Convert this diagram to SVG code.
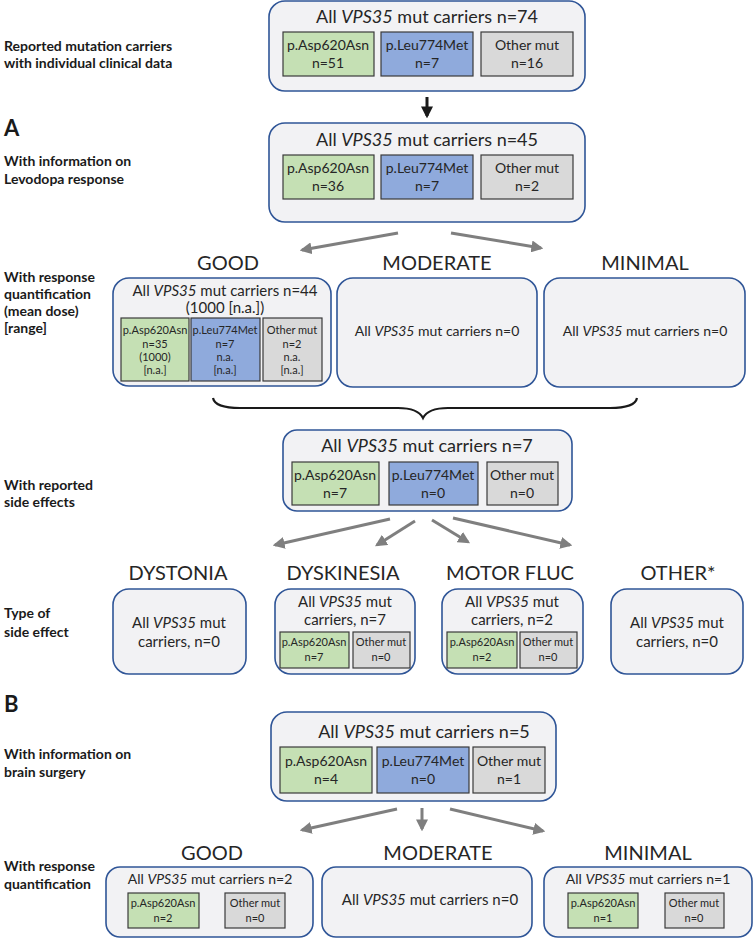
<svg xmlns="http://www.w3.org/2000/svg" width="753" height="939" viewBox="0 0 753 939">
<style>
text{font-family:Lato,"Liberation Sans",sans-serif;fill:#262626;text-anchor:middle}
.lab{font-weight:bold;font-size:14px;text-anchor:start;fill:#1a1a1a}
.big{font-weight:bold;font-size:22px;text-anchor:start;fill:#1a1a1a}
.outer{fill:#f2f2f4;stroke:#2f5597;stroke-width:1.6}
.g{fill:#c5e0b4;stroke:#3a3a3a;stroke-width:1.2}
.b{fill:#8faadc;stroke:#3a3a3a;stroke-width:1.2}
.o{fill:#d9d9d9;stroke:#3a3a3a;stroke-width:1.2}
.t18{font-size:18px}.t15{font-size:15px}.t14{font-size:14px}.t11{font-size:11px}.h{font-size:20px}
.arr{stroke:#7f7f7f;stroke-width:3;fill:none;marker-end:url(#ag)}
i{font-style:italic}
.it{font-style:italic}
</style>
<defs>
<marker id="ag" viewBox="0 0 10 10" refX="8" refY="5" markerWidth="4" markerHeight="4" orient="auto" markerUnits="strokeWidth"><path d="M0,0 L10,5 L0,10 z" fill="#7f7f7f"/></marker>
<marker id="ak" viewBox="0 0 10 10" refX="8" refY="5" markerWidth="4" markerHeight="4" orient="auto" markerUnits="strokeWidth"><path d="M0,0 L10,5 L0,10 z" fill="#1a1a1a"/></marker>
</defs>

<g id="labels">
<text class="lab" x="4" y="51">Reported mutation carriers</text>
<text class="lab" x="4" y="68">with individual clinical data</text>
<text class="big" x="4" y="136">A</text>
<text class="lab" x="4" y="166">With information on</text>
<text class="lab" x="4" y="184">Levodopa response</text>
<text class="lab" x="4" y="282">With response</text>
<text class="lab" x="4" y="299">quantification</text>
<text class="lab" x="4" y="316">(mean dose)</text>
<text class="lab" x="4" y="333">[range]</text>
<text class="lab" x="4" y="490">With reported</text>
<text class="lab" x="4" y="507">side effects</text>
<text class="lab" x="4" y="618">Type of</text>
<text class="lab" x="4" y="637">side effect</text>
<text class="big" x="4" y="712">B</text>
<text class="lab" x="4" y="759">With information on</text>
<text class="lab" x="4" y="777">brain surgery</text>
<text class="lab" x="4" y="871">With response</text>
<text class="lab" x="4" y="889">quantification</text>
</g>

<g id="headings">
<text class="h" x="228" y="270">GOOD</text>
<text class="h" x="437" y="270">MODERATE</text>
<text class="h" x="645" y="270">MINIMAL</text>
<text class="h" x="178" y="580">DYSTONIA</text>
<text class="h" x="343" y="580">DYSKINESIA</text>
<text class="h" x="510" y="580">MOTOR FLUC</text>
<text class="h" x="678" y="580">OTHER*</text>
<text class="h" x="212" y="860">GOOD</text>
<text class="h" x="438" y="860">MODERATE</text>
<text class="h" x="648" y="860">MINIMAL</text>
</g>

<g id="connectors">
<line x1="427" y1="97" x2="427" y2="116" stroke="#1a1a1a" stroke-width="3" marker-end="url(#ak)"/>
<line class="arr" x1="398" y1="233" x2="302" y2="250"/>
<line class="arr" x1="451" y1="233" x2="541" y2="248"/>
<path d="M213,398 Q215,408 240,408 L398,408 Q418,408 423,418 Q428,408 448,408 L610,408 Q635,408 637,398" fill="none" stroke="#1a1a1a" stroke-width="2.2"/>
<line class="arr" x1="390" y1="519" x2="275" y2="545"/>
<line class="arr" x1="415" y1="521" x2="377" y2="545"/>
<line class="arr" x1="432" y1="520" x2="468" y2="542"/>
<line class="arr" x1="453" y1="518" x2="570" y2="545"/>
<line class="arr" x1="397" y1="809" x2="302" y2="830"/>
<line class="arr" x1="422" y1="808" x2="422" y2="829"/>
<line class="arr" x1="450" y1="809" x2="543" y2="831"/>
</g>

<g id="n74">
<rect class="outer" x="269" y="1" width="316" height="90" rx="16"/>
<text class="t18" x="427" y="23">All <tspan class="it">VPS35</tspan> mut carriers n=74</text>
<rect class="g" x="283" y="32" width="91" height="44"/>
<rect class="b" x="381" y="32" width="92" height="44"/>
<rect class="o" x="481" y="32" width="92" height="44"/>
<text class="t14" x="328" y="50">p.Asp620Asn</text><text class="t14" x="328" y="68">n=51</text>
<text class="t14" x="427" y="50">p.Leu774Met</text><text class="t14" x="427" y="68">n=7</text>
<text class="t14" x="527" y="50">Other mut</text><text class="t14" x="527" y="68">n=16</text>
</g>

<g id="n45">
<rect class="outer" x="269" y="123" width="316" height="99" rx="16"/>
<text class="t18" x="427" y="146">All <tspan class="it">VPS35</tspan> mut carriers n=45</text>
<rect class="g" x="283" y="155" width="91" height="44"/>
<rect class="b" x="381" y="155" width="92" height="44"/>
<rect class="o" x="481" y="155" width="92" height="44"/>
<text class="t14" x="328" y="173">p.Asp620Asn</text><text class="t14" x="328" y="191">n=36</text>
<text class="t14" x="427" y="173">p.Leu774Met</text><text class="t14" x="427" y="191">n=7</text>
<text class="t14" x="527" y="173">Other mut</text><text class="t14" x="527" y="191">n=2</text>
</g>

<g id="levo-good">
<rect class="outer" x="113" y="278" width="218" height="108" rx="16"/>
<text class="t15" x="225" y="296">All <tspan class="it">VPS35</tspan> mut carriers n=44</text>
<text class="t15" x="225" y="313">(1000 [n.a.])</text>
<rect class="g" x="121" y="318" width="68" height="63"/>
<rect class="b" x="191" y="318" width="69" height="63"/>
<rect class="o" x="263" y="318" width="59" height="63"/>
<text class="t11" x="155" y="334">p.Asp620Asn</text><text class="t11" x="155" y="348">n=35</text><text class="t11" x="155" y="361">(1000)</text><text class="t11" x="155" y="374">[n.a.]</text>
<text class="t11" x="225" y="334">p.Leu774Met</text><text class="t11" x="225" y="348">n=7</text><text class="t11" x="225" y="361">n.a.</text><text class="t11" x="225" y="374">[n.a.]</text>
<text class="t11" x="292" y="334">Other mut</text><text class="t11" x="292" y="348">n=2</text><text class="t11" x="292" y="361">n.a.</text><text class="t11" x="292" y="374">[n.a.]</text>
</g>

<g id="levo-moderate">
<rect class="outer" x="337" y="278" width="200" height="109" rx="16"/>
<text class="t14" x="437" y="336">All <tspan class="it">VPS35</tspan> mut carriers n=0</text>
</g>

<g id="levo-minimal">
<rect class="outer" x="544" y="278" width="201" height="109" rx="16"/>
<text class="t14" x="645" y="336">All <tspan class="it">VPS35</tspan> mut carriers n=0</text>
</g>

<g id="n7">
<rect class="outer" x="283" y="430" width="289" height="81" rx="14"/>
<text class="t18" x="427" y="452">All <tspan class="it">VPS35</tspan> mut carriers n=7</text>
<rect class="g" x="292" y="462" width="87" height="43"/>
<rect class="b" x="389" y="462" width="89" height="43"/>
<rect class="o" x="487" y="462" width="71" height="43"/>
<text class="t14" x="335" y="480">p.Asp620Asn</text><text class="t14" x="335" y="498">n=7</text>
<text class="t14" x="433" y="480">p.Leu774Met</text><text class="t14" x="433" y="498">n=0</text>
<text class="t14" x="522" y="480">Other mut</text><text class="t14" x="522" y="498">n=0</text>
</g>

<g id="dystonia">
<rect class="outer" x="113" y="589" width="133" height="85" rx="16"/>
<text class="t15" x="179" y="628">All <tspan class="it">VPS35</tspan> mut</text>
<text class="t15" x="179" y="647">carriers, n=0</text>
</g>

<g id="dyskinesia">
<rect class="outer" x="275" y="589" width="140" height="85" rx="16"/>
<text class="t15" x="345" y="607">All <tspan class="it">VPS35</tspan> mut</text>
<text class="t15" x="345" y="625">carriers, n=7</text>
<rect class="g" x="280" y="632" width="69" height="36"/>
<rect class="o" x="353" y="632" width="57" height="36"/>
<text class="t11" x="314" y="646">p.Asp620Asn</text><text class="t11" x="314" y="661">n=7</text>
<text class="t11" x="381" y="646">Other mut</text><text class="t11" x="381" y="661">n=0</text>
</g>

<g id="motorfluc">
<rect class="outer" x="442" y="589" width="141" height="85" rx="16"/>
<text class="t15" x="512" y="607">All <tspan class="it">VPS35</tspan> mut</text>
<text class="t15" x="512" y="625">carriers, n=2</text>
<rect class="g" x="447" y="632" width="70" height="36"/>
<rect class="o" x="520" y="632" width="57" height="36"/>
<text class="t11" x="482" y="646">p.Asp620Asn</text><text class="t11" x="482" y="661">n=2</text>
<text class="t11" x="548" y="646">Other mut</text><text class="t11" x="548" y="661">n=0</text>
</g>

<g id="other">
<rect class="outer" x="611" y="589" width="132" height="85" rx="16"/>
<text class="t15" x="677" y="628">All <tspan class="it">VPS35</tspan> mut</text>
<text class="t15" x="677" y="647">carriers, n=0</text>
</g>

<g id="n5">
<rect class="outer" x="271" y="712" width="285" height="89" rx="16"/>
<text class="t18" x="424" y="738">All <tspan class="it">VPS35</tspan> mut carriers n=5</text>
<rect class="g" x="280" y="747" width="92" height="46"/>
<rect class="b" x="377" y="747" width="92" height="46"/>
<rect class="o" x="473" y="747" width="72" height="46"/>
<text class="t14" x="326" y="766">p.Asp620Asn</text><text class="t14" x="326" y="784">n=4</text>
<text class="t14" x="423" y="766">p.Leu774Met</text><text class="t14" x="423" y="784">n=0</text>
<text class="t14" x="509" y="766">Other mut</text><text class="t14" x="509" y="784">n=1</text>
</g>

<g id="surg-good">
<rect class="outer" x="106" y="867" width="207" height="70" rx="14"/>
<text class="t14" x="210" y="884">All <tspan class="it">VPS35</tspan> mut carriers n=2</text>
<rect class="g" x="128" y="893" width="71" height="35"/>
<rect class="o" x="225" y="893" width="60" height="35"/>
<text class="t11" x="163" y="907">p.Asp620Asn</text><text class="t11" x="163" y="922">n=2</text>
<text class="t11" x="255" y="907">Other mut</text><text class="t11" x="255" y="922">n=0</text>
</g>

<g id="surg-moderate">
<rect class="outer" x="322" y="867" width="210" height="70" rx="14"/>
<text class="t15" x="430" y="905">All <tspan class="it">VPS35</tspan> mut carriers n=0</text>
</g>

<g id="surg-minimal">
<rect class="outer" x="544" y="867" width="208" height="70" rx="14"/>
<text class="t14" x="648" y="884">All <tspan class="it">VPS35</tspan> mut carriers n=1</text>
<rect class="g" x="568" y="893" width="70" height="35"/>
<rect class="o" x="665" y="893" width="59" height="35"/>
<text class="t11" x="603" y="907">p.Asp620Asn</text><text class="t11" x="603" y="922">n=1</text>
<text class="t11" x="694" y="907">Other mut</text><text class="t11" x="694" y="922">n=0</text>
</g>
</svg>
